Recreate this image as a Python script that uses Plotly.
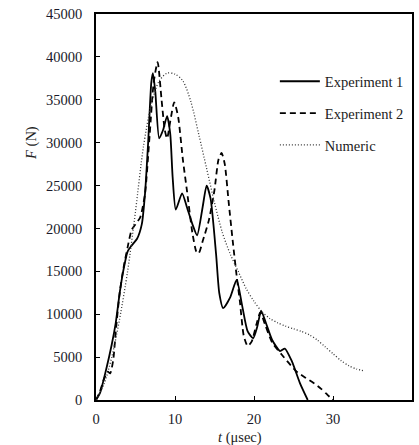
import plotly.graph_objects as go

# Experiment 1 (solid)
t_exp1 = [0, 0.5, 1.27, 2.0, 2.5, 3.0, 3.4, 4.0, 4.5, 5.2, 5.8, 6.2, 6.6, 7.0, 7.2, 7.5, 8.0, 8.5,
          9.0, 9.4, 9.7, 10.1, 10.9, 11.5, 12.2, 12.8, 13.5, 14.0, 14.5, 15.2, 15.6, 16.1, 17.0,
          17.8, 18.5, 19.2, 19.9, 20.4, 20.9, 21.5, 22.3, 23.3, 23.9, 24.8, 25.8, 26.8]
f_exp1 = [0, 800, 3500, 6500, 9000, 12500, 14800, 17300, 18000, 18800, 20500, 24000, 30000, 37000,
          38100, 36000, 30500, 31500, 33100, 31000, 26000, 22200, 24100, 22500, 20500, 19200, 22500,
          25000, 23500, 17000, 12500, 10700, 12000, 14000, 11000, 8000, 7200, 8500, 10400, 9000,
          7000, 5700, 6000, 4500, 2000, 0]

# Experiment 2 (dashed)
t_exp2 = [0, 0.5, 1.0, 1.5, 1.8, 2.2, 2.5, 3.0, 3.5, 4.0, 4.5, 5.0, 5.6, 6.2, 6.8, 7.3, 7.8, 8.3,
          8.7, 9.0, 9.4, 9.9, 10.4, 11.0, 11.5, 12.2, 12.7, 13.0, 13.5, 14.3, 15.0, 15.5, 15.9, 16.3,
          16.8, 17.3, 17.8, 18.2, 18.7, 19.2, 19.7, 20.3, 20.8, 21.4, 22.3, 23.5, 24.5, 25.4, 26.5,
          27.5, 28.5, 29.3, 30.0]
f_exp2 = [0, 1000, 2400, 3300, 3100, 4800, 8000, 12500, 15500, 17800, 19800, 20500, 21300, 24000,
          31000, 37000, 39400, 35000, 31500, 30500, 32500, 34700, 33000, 28000, 24500, 19500, 17300,
          17100, 18500, 21000, 24500, 28000, 28800, 27500, 23000, 18600, 14500, 11600, 7500, 6300,
          6800, 8800, 10200, 8800, 6700, 5300, 4200, 3300, 2600, 2000, 1300, 600, 0]

# Numeric (dotted)
t_num = list(range(0, 35))
f_num = [0, 1800, 5000, 9500, 15000, 22000, 29500, 34500, 37200, 38100, 38000, 37200, 34800, 31000,
         27000, 23000, 19500, 17000, 15000, 13000, 11500, 10300, 9500, 9000, 8600, 8300, 8000, 7600,
         7000, 6200, 5400, 4600, 4000, 3600, 3400]

x_ticks = [0, 10, 20, 30, 40]
y_ticks = [0, 5000, 10000, 15000, 20000, 25000, 30000, 35000, 40000, 45000]
y_tick_labels = [str(v) for v in y_ticks]

FONT = "Liberation Serif, Times New Roman, serif"

fig = go.Figure()
fig.add_trace(go.Scatter(x=t_exp1, y=f_exp1, mode="lines", name="Experiment 1", legendgroup="a",
                         line=dict(color="black", width=1.8, shape="spline", smoothing=0.6)))
fig.add_trace(go.Scatter(x=t_exp2, y=f_exp2, mode="lines", name="Experiment 2", legendgroup="b",
                         line=dict(color="black", width=1.8, dash="6px,4px", shape="spline", smoothing=0.6)))
fig.add_trace(go.Scatter(x=t_num, y=f_num, mode="lines", name="Numeric", legendgroup="c",
                         line=dict(color="#333333", width=1.3, dash="1px,2px", shape="spline", smoothing=0.8)))

axis_common = dict(showgrid=False, zeroline=False, showline=True, linecolor="black", linewidth=1.5,
                   mirror=True, ticks="inside", ticklen=4, tickwidth=1.2, tickcolor="black",
                   automargin=False,
                   tickfont=dict(family=FONT, size=14.5, color="#1a1a2a"))

fig.update_xaxes(range=[0, 40], tickvals=x_ticks, ticklabelstandoff=5, **axis_common)
fig.update_yaxes(range=[0, 45000], tickvals=y_ticks, ticktext=y_tick_labels,
                 ticklabelstandoff=9, **axis_common)

fig.add_annotation(text="<i>F</i> (N)", xref="paper", yref="paper", x=-0.237, y=0.665,
                   textangle=-90, showarrow=False, font=dict(family=FONT, size=14.5, color="#222"))
fig.add_annotation(text="<i>t</i> (μsec)", xref="paper", yref="paper", x=0.455, y=-0.124,
                   showarrow=False, font=dict(family=FONT, size=14.5, color="#222"))

fig.update_layout(
    width=419, height=445,
    margin=dict(l=96, r=7, t=14, b=45, autoexpand=False),
    paper_bgcolor="white", plot_bgcolor="white",
    font=dict(family=FONT),
    showlegend=True,
    legend=dict(x=0.566, y=0.867, xanchor="left", yanchor="top", bgcolor="rgba(0,0,0,0)",
                font=dict(family=FONT, size=14.5, color="#222"), tracegroupgap=10,
                itemwidth=40),
)

fig.write_html("out.html", config={"displayModeBar": False},
               post_script="document.body.style.margin='0';")
